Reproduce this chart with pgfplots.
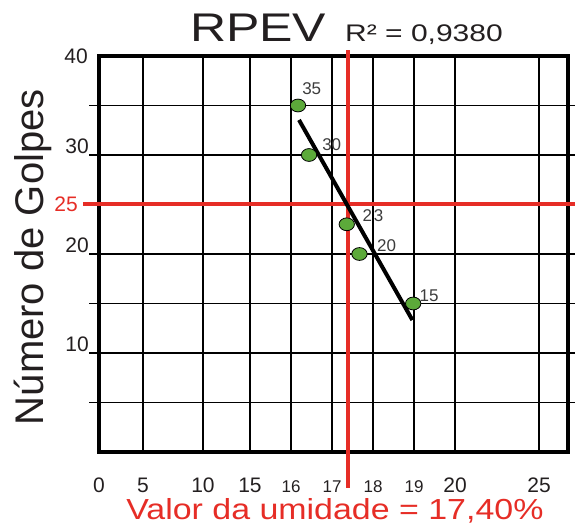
\documentclass[border=0pt]{standalone}
\usepackage{fontspec}
\setmainfont{Liberation Sans}
\usepackage{pgfplots}
\pgfplotsset{compat=1.18}
\definecolor{ptgreen}{RGB}{92,170,58}
\definecolor{lred}{RGB}{230,45,38}
\definecolor{txt}{RGB}{35,31,32}
\definecolor{lbl}{RGB}{60,60,60}
\newcommand\bt[1]{{\fontsize{21}{21}\selectfont #1}}
\newcommand\st[1]{{\fontsize{17}{17}\selectfont #1}}
\begin{document}
\begin{tikzpicture}
\begin{axis}[
  at={(99pt,77pt)}, anchor=south west,
  width=469pt, height=396pt, scale only axis,
  x coord trafo/.code={\pgfmathparse{(#1<5) ? (#1*8.8) : ((#1<10) ? (44+(#1-5)*12) : ((#1<15) ? (104+(#1-10)*9.4) : ((#1<20) ? (151+(#1-15)*41) : (356+(#1-20)*16.8))))}},
  xmin=0, xmax=26.726, ymin=0, ymax=40,
  clip=false,
  axis line style={black, line width=4pt},
  tick align=outside,
  major tick length=10pt,
  xtick={0,5,10,15,16,17,18,19,20,25},
  xticklabels={\bt{0},\bt{5},\bt{10},\bt{15},\st{16},\st{17},\st{18},\st{19},\bt{20},\bt{25}},
  xtick style={draw=none},
  xticklabel style={anchor=base, inner sep=0pt, yshift=-31pt, text=txt},
  ytick={5,10,15,20,30,35},
  yticklabels={,\bt{10},,\bt{20},\bt{30},},
  ytick pos=both, yticklabel pos=left,
  ytick style={black, line width=1.8pt},
  yticklabel style={anchor=base east, inner sep=0pt, yshift=1pt, text=txt},
  xmajorgrids, ymajorgrids,
  grid style={black, line width=1.8pt},
  /pgf/number format/assume math mode=true,
]
\addplot[lred, line width=4pt, forget plot] coordinates {(-1.82,25) (28,25)};
\addplot[lred, line width=4pt, forget plot] coordinates {(17.4,40.6) (17.4,-3.64)};
\addplot[black, line width=4pt, forget plot] coordinates {(16.195,33.54) (18.96,13.33)};
\addplot[only marks, mark=*, mark size=6.4pt,
  mark options={fill=ptgreen, draw=black, line width=0.8pt, xscale=1.2}]
  coordinates {(16.17,35) (16.44,30) (17.36,23) (17.67,20) (18.98,15)};
\node[text=lbl] at (axis cs:16.505,36.74) {\st{35}};
\node[text=lbl] at (axis cs:16.993,31.01) {\st{30}};
\node[text=lbl] at (axis cs:18.0,23.84) {\st{2\hspace{2pt}3}};
\node[text=lbl] at (axis cs:18.33,20.81) {\st{20}};
\node[text=lbl] at (axis cs:19.366,15.76) {\st{15}};
\node[anchor=east, inner sep=0pt, text=txt] at (rel axis cs:-0.0235,1) {\bt{40}};
\node[anchor=east, inner sep=0pt, text=lred] at (rel axis cs:-0.0448,0.625) {\bt{25}};
\node[anchor=base west, inner sep=0pt, text=txt] at (rel axis cs:0.194,1.0354) {\scalebox{1.25}[1]{\fontsize{40}{40}\selectfont RPEV}};
\node[anchor=base west, inner sep=0pt, text=txt] at (rel axis cs:0.5245,1.0354) {\scalebox{1.25}[1]{\fontsize{24}{24}\selectfont R² = 0,9380}};
\node[anchor=base, inner sep=0pt, text=lred] at (rel axis cs:0.503,-0.170) {\scalebox{1.17}[1]{\fontsize{29}{29}\selectfont Valor da umidade = 17,40\%}};
\node[anchor=base, rotate=90, inner sep=0pt, text=txt] at (rel axis cs:-0.1194,0.492) {\fontsize{40}{40}\selectfont Número de Golpes};
\end{axis}
\pgfresetboundingbox
\path[use as bounding box] (0,0) rectangle (575pt,529pt);
\end{tikzpicture}
\end{document}
